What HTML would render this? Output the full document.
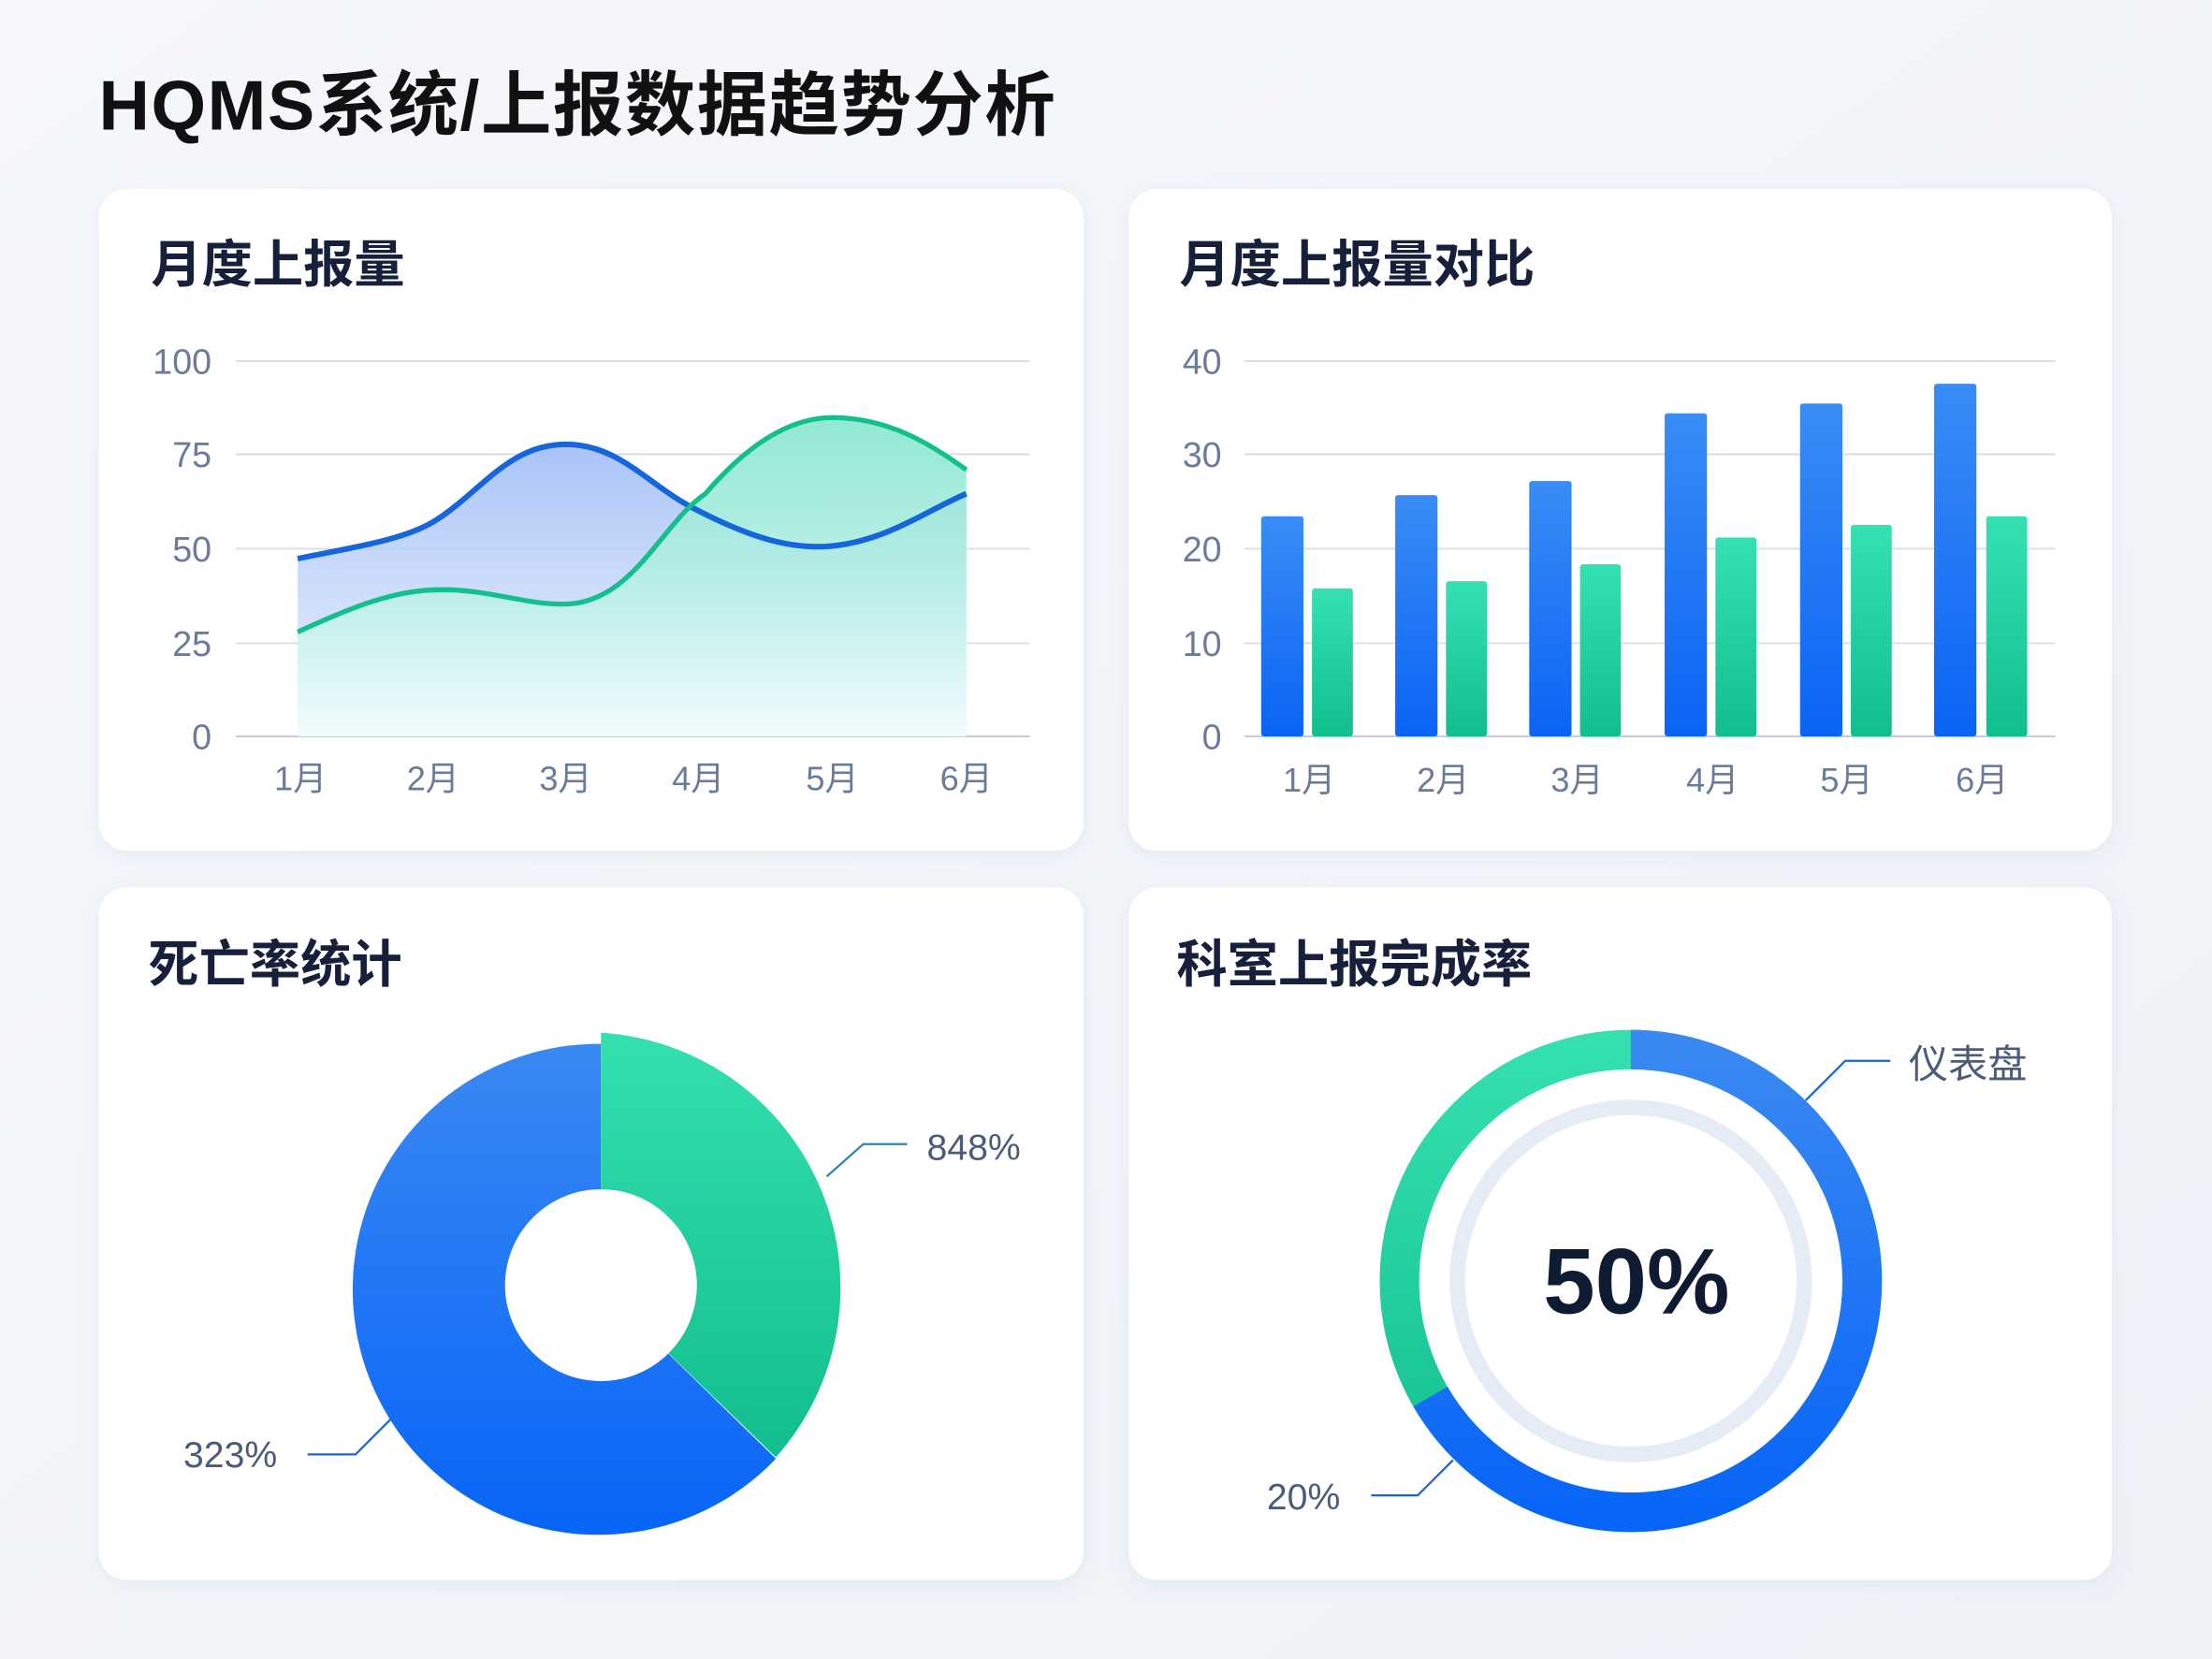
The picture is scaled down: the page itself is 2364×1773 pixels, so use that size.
<!DOCTYPE html>
<html><head><meta charset="utf-8"><style>
html,body{margin:0;padding:0;width:2364px;height:1773px;overflow:hidden;background:#f2f5f9}
svg{display:block}
text{font-family:"Liberation Sans","Noto Sans CJK SC",sans-serif}
</style></head><body>
<svg width="2364" height="1773" viewBox="0 0 1568 1176" xmlns="http://www.w3.org/2000/svg">
<defs>
<linearGradient id="bg" x1="0" y1="0" x2="1" y2="1"><stop offset="0" stop-color="#f5f7fb"/><stop offset="1" stop-color="#eef2f7"/></linearGradient>
<linearGradient id="ba" x1="0" y1="0" x2="0" y2="1"><stop offset="0" stop-color="#a9c3f7"/><stop offset="1" stop-color="#d9e6fb" stop-opacity="0.6"/></linearGradient>
<linearGradient id="ga" x1="0" y1="0" x2="0" y2="1"><stop offset="0" stop-color="#86e6cf"/><stop offset="0.5" stop-color="#b4eee6"/><stop offset="1" stop-color="#f4fdfd"/></linearGradient>
<linearGradient id="bb" x1="0" y1="0" x2="0" y2="1"><stop offset="0" stop-color="#3a8cf5"/><stop offset="1" stop-color="#0a64f5"/></linearGradient>
<linearGradient id="gb" x1="0" y1="0" x2="0" y2="1"><stop offset="0" stop-color="#35e0b5"/><stop offset="1" stop-color="#12be8e"/></linearGradient>
<linearGradient id="pb" x1="0" y1="0" x2="0" y2="1"><stop offset="0" stop-color="#3a88f2"/><stop offset="1" stop-color="#0765f7"/></linearGradient>
<linearGradient id="pg" x1="0" y1="0" x2="0" y2="1"><stop offset="0" stop-color="#34dfb0"/><stop offset="1" stop-color="#12bd8e"/></linearGradient>
<filter id="sh" x="-5%" y="-5%" width="110%" height="110%"><feDropShadow dx="0" dy="3" stdDeviation="6" flood-color="#9aaccc" flood-opacity="0.15"/></filter>
</defs>
<rect width="1568" height="1176" fill="url(#bg)"/>
<text x="70" y="92" font-size="50" font-weight="bold" fill="#111" textLength="678" lengthAdjust="spacing">HQMS系统/上报数据趋势分析</text>

<g filter="url(#sh)" fill="#fff">
<rect x="70" y="134" width="698" height="469" rx="20"/>
<rect x="800" y="134" width="697" height="469" rx="20"/>
<rect x="70" y="629" width="698" height="491" rx="20"/>
<rect x="800" y="629" width="697" height="491" rx="20"/>
</g>

<g font-size="36" font-weight="bold" fill="#17203a">
<text x="107" y="200">月度上报量</text>
<text x="836" y="200">月度上报量对比</text>
<text x="105" y="696">死亡率统计</text>
<text x="834" y="696">科室上报完成率</text>
</g>

<g stroke="#d5dde9" stroke-width="1.2">
<line x1="167" y1="256" x2="730" y2="256"/><line x1="167" y1="322" x2="730" y2="322"/>
<line x1="167" y1="389" x2="730" y2="389"/><line x1="167" y1="456" x2="730" y2="456"/>
<line x1="167" y1="522" x2="730" y2="522" stroke="#b9c4d6"/>
</g>
<g font-size="25" fill="#6a7c99" text-anchor="end">
<text x="150" y="265">100</text><text x="150" y="331">75</text><text x="150" y="398">50</text><text x="150" y="465">25</text><text x="150" y="531">0</text>
</g>
<g font-size="24" fill="#6a7c99" text-anchor="middle">
<text x="213" y="560">1月</text><text x="307" y="560">2月</text><text x="401" y="560">3月</text><text x="495" y="560">4月</text><text x="590" y="560">5月</text><text x="685" y="560">6月</text>
</g>
<path d="M211,396 C250,388 285,383 307,370 C340,350 360,315 401,315 C440,315 460,345 495,362 C530,380 560,390 590,387 C630,383 660,360 685,350 L685,522 L211,522 Z" fill="url(#ba)"/>
<path d="M211,448 C250,430 280,418 313,418 C350,418 375,430 405,428 C450,424 470,370 500,350 C530,315 560,296 590,296 C630,296 660,315 685,333 L685,522 L211,522 Z" fill="url(#ga)" opacity="0.9"/>
<path d="M211,396 C250,388 285,383 307,370 C340,350 360,315 401,315 C440,315 460,345 495,362 C530,380 560,390 590,387 C630,383 660,360 685,350" fill="none" stroke="#1565dd" stroke-width="4"/>
<path d="M211,448 C250,430 280,418 313,418 C350,418 375,430 405,428 C450,424 470,370 500,350 C530,315 560,296 590,296 C630,296 660,315 685,333" fill="none" stroke="#14bf8e" stroke-width="3.5"/>

<g stroke="#d5dde9" stroke-width="1.2">
<line x1="882" y1="256" x2="1457" y2="256"/><line x1="882" y1="322" x2="1457" y2="322"/>
<line x1="882" y1="389" x2="1457" y2="389"/><line x1="882" y1="456" x2="1457" y2="456"/>
<line x1="882" y1="522" x2="1457" y2="522" stroke="#b9c4d6"/>
</g>
<g font-size="25" fill="#6a7c99" text-anchor="end">
<text x="866" y="265">40</text><text x="866" y="331">30</text><text x="866" y="398">20</text><text x="866" y="465">10</text><text x="866" y="531">0</text>
</g>
<g font-size="24" fill="#6a7c99" text-anchor="middle">
<text x="928" y="561">1月</text><text x="1023" y="561">2月</text><text x="1118" y="561">3月</text><text x="1214" y="561">4月</text><text x="1309" y="561">5月</text><text x="1405" y="561">6月</text>
</g>
<g fill="url(#bb)">
<rect x="894" y="366" width="30" height="156" rx="2"/>
<rect x="989" y="351" width="30" height="171" rx="2"/>
<rect x="1084" y="341" width="30" height="181" rx="2"/>
<rect x="1180" y="293" width="30" height="229" rx="2"/>
<rect x="1276" y="286" width="30" height="236" rx="2"/>
<rect x="1371" y="272" width="30" height="250" rx="2"/>
</g>
<g fill="url(#gb)">
<rect x="930" y="417" width="29" height="105" rx="2"/>
<rect x="1025" y="412" width="29" height="110" rx="2"/>
<rect x="1120" y="400" width="29" height="122" rx="2"/>
<rect x="1216" y="381" width="29" height="141" rx="2"/>
<rect x="1312" y="372" width="29" height="150" rx="2"/>
<rect x="1408" y="366" width="29" height="156" rx="2"/>
</g>

<path d="M426,913 L550,1034 A174,174 0 1 1 426,740 Z" fill="url(#pb)"/>
<path d="M426,913 L426,732 A181,181 0 0 1 550,1033 Z" fill="url(#pg)"/>
<circle cx="426" cy="911" r="68" fill="#fff"/>
<polyline points="586,834 612,811 643,811" fill="none" stroke="#2a86b0" stroke-width="1.5"/>
<polyline points="218,1031 252,1031 278,1005" fill="none" stroke="#1a66d0" stroke-width="1.5"/>
<text x="657" y="822" font-size="26" fill="#4a5c7a">848%</text>
<text x="130" y="1040" font-size="26" fill="#4a5c7a">323%</text>

<circle cx="1156" cy="908" r="164" fill="none" stroke="url(#pg)" stroke-width="28"/>
<path d="M1156,744 A164,164 0 1 1 1014,990" fill="none" stroke="url(#pb)" stroke-width="28"/>
<circle cx="1156" cy="908" r="123" fill="none" stroke="#e6ecf6" stroke-width="11"/>
<text x="1160" y="931" font-size="66" font-weight="bold" fill="#0f1a33" text-anchor="middle">50%</text>
<polyline points="1280,780 1308,752 1340,752" fill="none" stroke="#1a66d0" stroke-width="1.5"/>
<polyline points="972,1060 1005,1060 1030,1035" fill="none" stroke="#1a66d0" stroke-width="1.5"/>
<text x="1353" y="764" font-size="28" fill="#4a5c7a">仪表盘</text>
<text x="898" y="1070" font-size="26" fill="#4a5c7a">20%</text>
</svg>
</body></html>
